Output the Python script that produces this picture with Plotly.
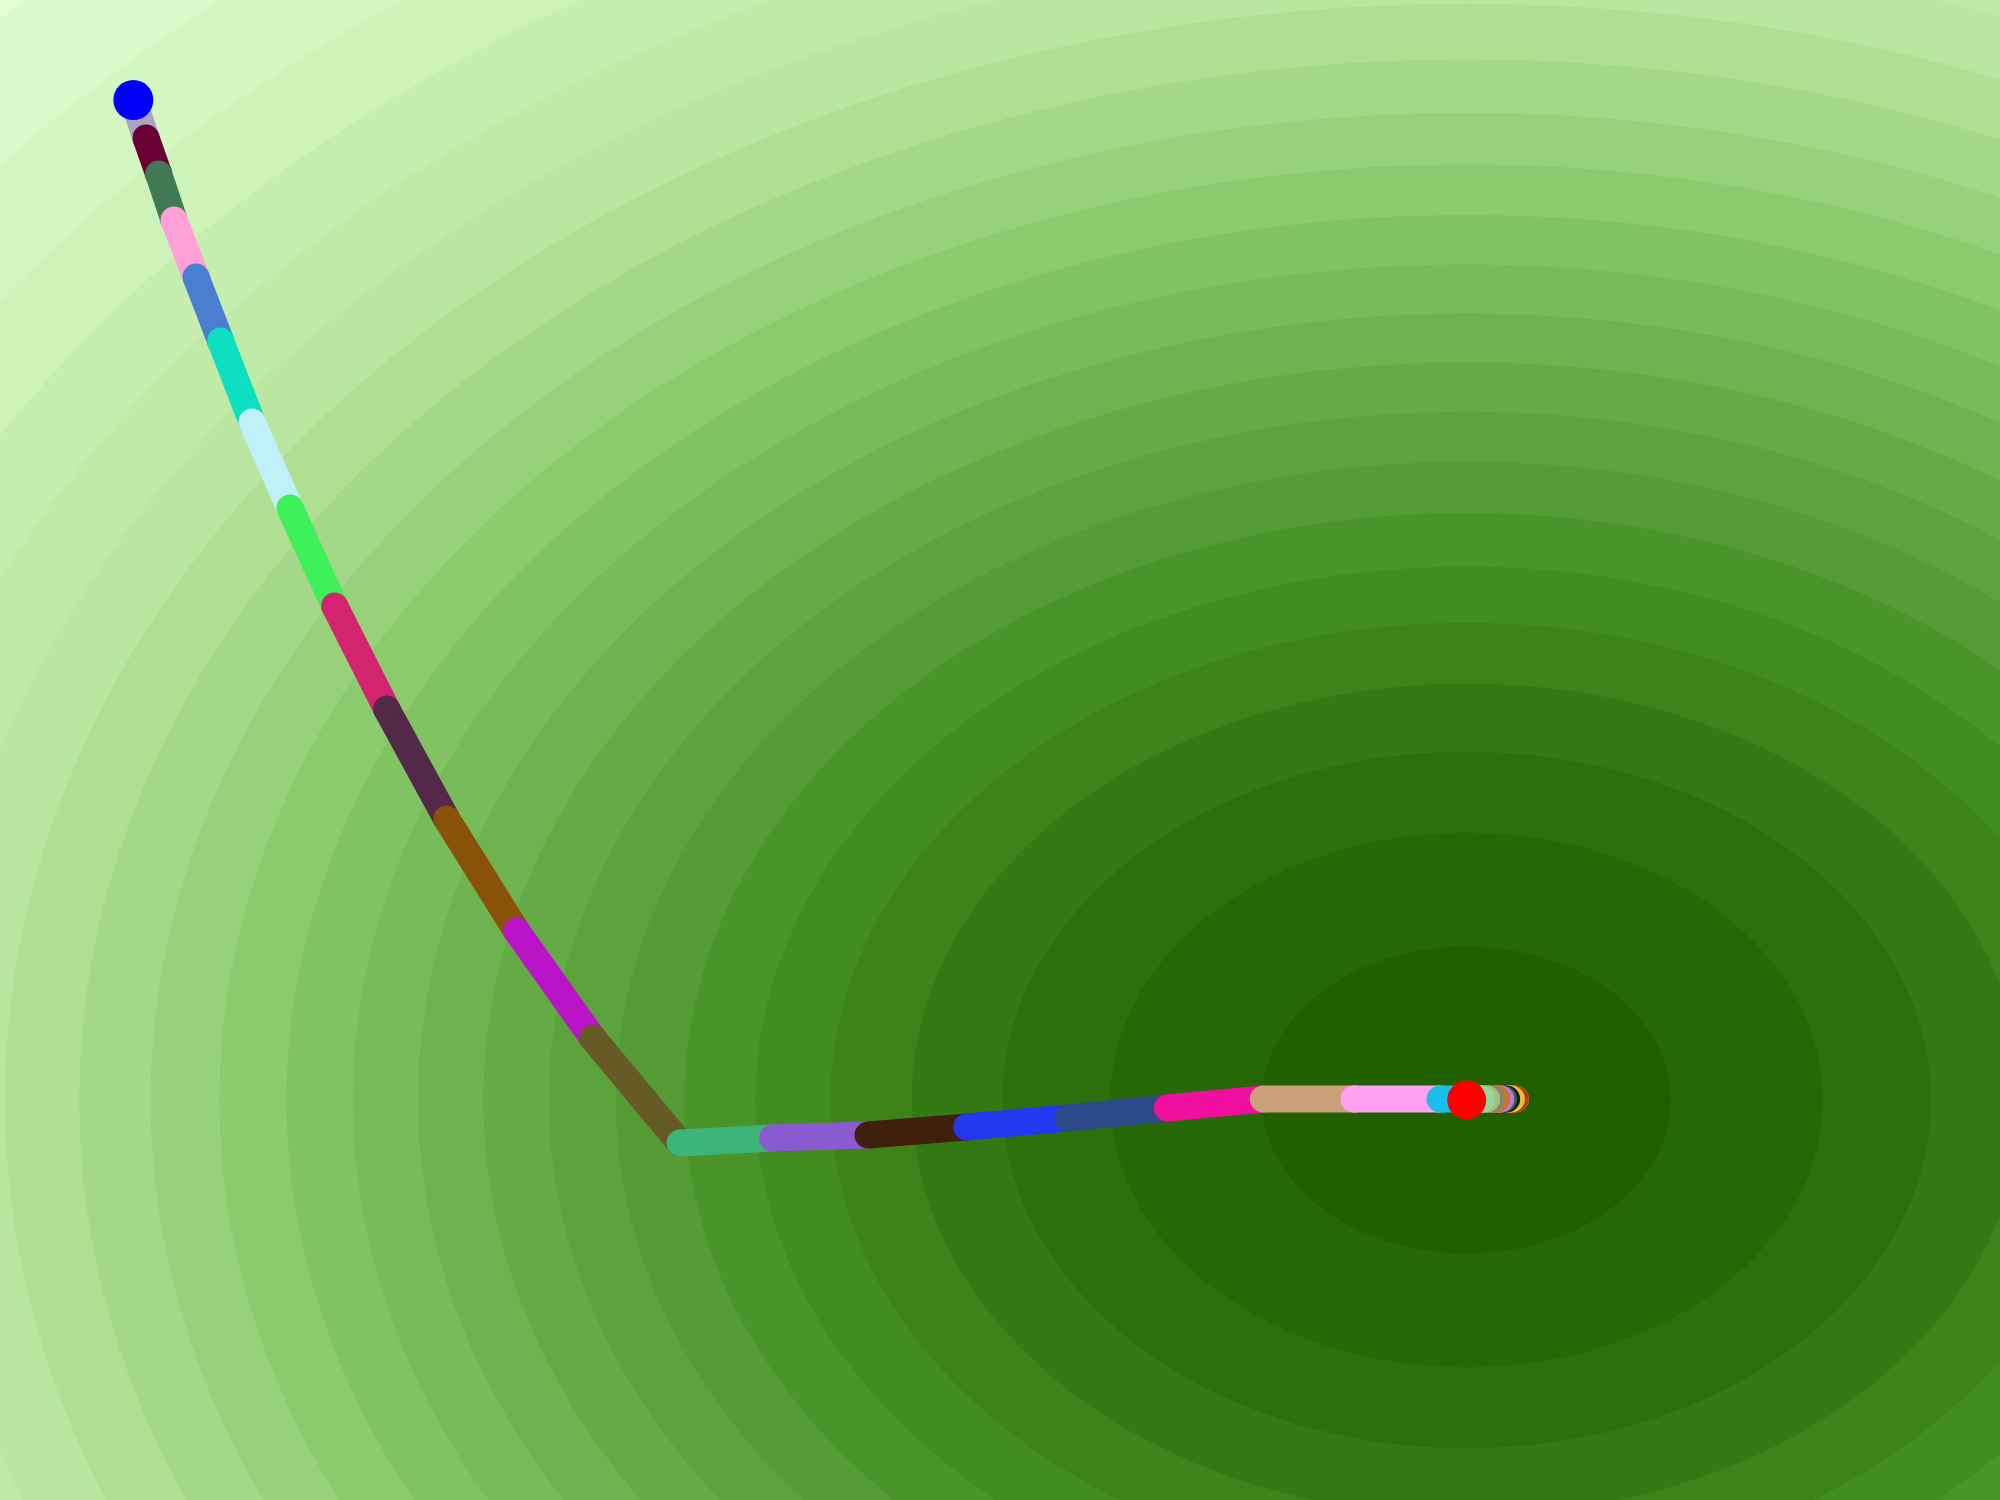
import numpy as np
import plotly.graph_objects as go

# optimiser path (data coords), one colour per step
path_x = [-1.300, -1.281, -1.262, -1.239, -1.206, -1.169, -1.122, -1.065, -0.998, -0.920,
          -0.830, -0.725, -0.611, -0.480, -0.341, -0.198, -0.050, 0.102, 0.251, 0.395,
          0.531, 0.660, 0.750, 0.773, 0.767, 0.760, 0.755, 0.751, 0.745, 0.736,
          0.730, 0.722, 0.714]
path_y = [1.300, 1.224, 1.152, 1.060, 0.946, 0.818, 0.656, 0.484, 0.288, 0.082,
          -0.138, -0.362, -0.576, -0.786, -0.776, -0.770, -0.754, -0.736, -0.716, -0.698,
          -0.698, -0.698, -0.698, -0.698, -0.698, -0.698, -0.698, -0.698, -0.698, -0.698,
          -0.698, -0.698, -0.698]
step_colors = ['#aca3bf', '#6b0036', '#3f7a55', '#ffa0d8', '#4a7fd0', '#0ce0c0', '#c0f0f8',
               '#3ef05a', '#d42470', '#542848', '#8a5208', '#bb14c8', '#665a26', '#3db47a',
               '#8a5ad0', '#40200a', '#2438f0', '#2a4a8a', '#f010a0', '#c8a07a', '#ffa0f0',
               '#18c0e8', '#90c0a0', '#c03818', '#e8c040', '#102018', '#2a6a60', '#d070d0',
               '#c07830', '#808878', '#a8c070', '#90d8a0']

# surface: inverted gaussian well
min_x, min_y = 0.7, -0.7
width = 1.55
level_start, level_size, n_levels = 0.0194, 0.0383, 23

xs = np.linspace(-1.5, 1.5, 501)
ys = np.linspace(-1.5, 1.5, 376)
X, Y = np.meshgrid(xs, ys)
Z = 1 - np.exp(-((X - min_x) ** 2 + (Y - min_y) ** 2) / (2 * width ** 2))

greens = [[0, 'rgb(33,96,0)'], [2 / 23, 'rgb(45,112,11)'], [5 / 23, 'rgb(67,140,32)'],
          [9 / 23, 'rgb(100,171,69)'], [13 / 23, 'rgb(139,202,109)'],
          [17 / 23, 'rgb(185,230,160)'], [1, 'rgb(225,255,209)']]

fig = go.Figure()
fig.add_trace(go.Contour(
    x=xs, y=ys, z=Z, colorscale=greens, showscale=False,
    contours=dict(start=level_start, end=level_start + level_size * (n_levels - 1),
                  size=level_size, coloring='fill', showlines=False),
    line_width=0, hoverinfo='skip'))

for i, c in enumerate(step_colors):
    fig.add_trace(go.Scatter(
        x=path_x[i:i + 2], y=path_y[i:i + 2], mode='lines+markers',
        line=dict(color=c, width=27), marker=dict(color=c, size=27)))

fig.add_trace(go.Scatter(x=[path_x[0]], y=[path_y[0]], mode='markers',
                         marker=dict(color='#0000ff', size=40)))
fig.add_trace(go.Scatter(x=[min_x], y=[min_y], mode='markers',
                         marker=dict(color='#ff0000', size=39)))

fig.update_xaxes(visible=False, range=[-1.5, 1.5])
fig.update_yaxes(visible=False, range=[-1.5, 1.5])
fig.update_layout(width=2000, height=1500, margin=dict(l=0, r=0, t=0, b=0),
                  showlegend=False, plot_bgcolor='rgb(225,255,209)')

fig.write_html("out.html", config={'displayModeBar': False},
               post_script="document.body.style.margin='0';document.body.style.overflow='hidden';")
